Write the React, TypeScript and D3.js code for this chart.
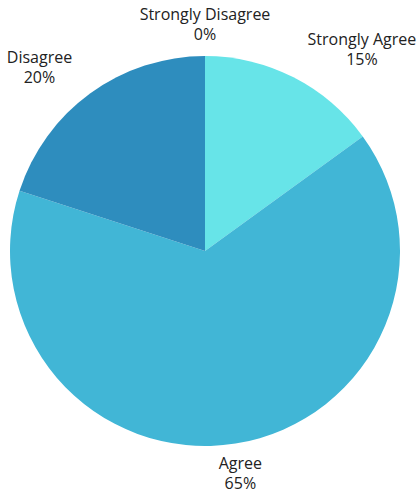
import React from "react";
import * as d3 from "d3";

const categories = ["Strongly Agree", "Agree", "Disagree", "Strongly Disagree"];
const values = [15, 65, 20, 0];
const colors = ["#67E4E8", "#41B6D6", "#2E8DBE", "#1F5F8F"];

const W = 419;
const H = 494;
const cx = 205;
const cy = 251;
const R = 195;
const LR = 226;
const FS = 16;
const FONT = "'Open Sans', sans-serif";

function measure(t: string): number {
  const c = document.createElement("canvas").getContext("2d");
  if (!c) return t.length * FS * 0.5;
  c.font = `${FS}px ${FONT}`;
  return c.measureText(t).width;
}

export default function App() {
  const pie = d3.pie<number>().sort(null).value((d) => d);
  const arcs = pie(values);
  const arc = d3.arc<d3.PieArcDatum<number>>().innerRadius(0).outerRadius(R);
  return (
    <svg width={W} height={H} style={{ position: "absolute", left: 0, top: 0 }} fontFamily={FONT}>
      <rect width={W} height={H} fill="#fff" />
      <g transform={`translate(${cx},${cy})`}>
        {arcs.map((a, i) => (
          <path key={i} d={arc(a) || ""} fill={colors[i]} />
        ))}
        {arcs.map((a, i) => {
          const mid = (a.startAngle + a.endAngle) / 2;
          const s = Math.sin(mid);
          const px = LR * s;
          const y = -LR * Math.cos(mid);
          const w = Math.max(measure(categories[i]), measure(values[i] + "%"));
          const x = Math.abs(s) < 0.2 ? px : s > 0 ? px + w / 2 : px - w / 2;
          return (
            <text key={"t" + i} x={x} y={y} textAnchor="middle" fontSize={FS} fill="#222">
              <tspan x={x} dy={-5}>{categories[i]}</tspan>
              <tspan x={x} dy={20}>{values[i]}%</tspan>
            </text>
          );
        })}
      </g>
    </svg>
  );
}
